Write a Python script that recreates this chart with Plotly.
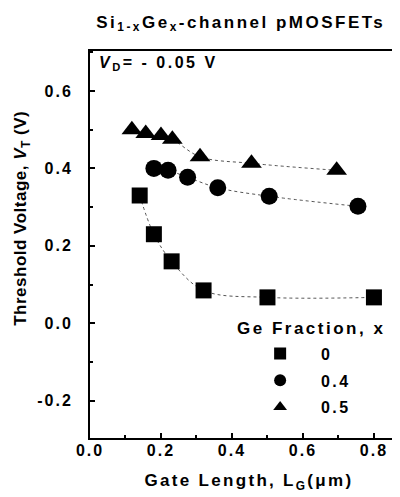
import plotly.graph_objects as go

# Data
lg_x0 = [0.14, 0.18, 0.23, 0.32, 0.50, 0.80]
vt_x0 = [0.33, 0.23, 0.16, 0.085, 0.067, 0.067]

lg_x04 = [0.18, 0.22, 0.275, 0.36, 0.505, 0.755]
vt_x04 = [0.40, 0.395, 0.377, 0.35, 0.328, 0.302]

lg_x05 = [0.118, 0.157, 0.20, 0.232, 0.31, 0.455, 0.695]
vt_x05 = [0.50, 0.49, 0.485, 0.475, 0.43, 0.413, 0.395]

x_tick_vals = [0.0, 0.2, 0.4, 0.6, 0.8]
x_tick_text = ["0.0", "0.2", "0.4", "0.6", "0.8"]
y_tick_vals = [-0.2, 0.0, 0.2, 0.4, 0.6]
y_tick_text = ["-0.2", "0.0", "0.2", "0.4", "0.6"]

series = [
    ("0", lg_x0, vt_x0, "square", 16),
    ("0.4", lg_x04, vt_x04, "circle", 17),
    ("0.5", lg_x05, vt_x05, "triangle-up", 18),
]

FONT = "Liberation Sans"
W = "bold"


def sp(t, px=2.5):
    return '<span style="letter-spacing:%spx">%s</span>' % (px, t)


fig = go.Figure()

for name, xs, ys, sym, sz in series:
    fig.add_trace(go.Scatter(
        x=xs, y=ys, mode="lines", showlegend=False,
        line=dict(color="#555", width=1, dash="dot", shape="spline", smoothing=1.0),
        hoverinfo="skip"))

for name, xs, ys, sym, sz in series:
    fig.add_trace(go.Scatter(
        x=xs, y=ys, mode="markers", name=sp("   " + name, 2.5),
        marker=dict(symbol=sym, size=sz, color="black", line=dict(width=0)),
        legendgroup=name))

fig.update_layout(
    width=400, height=497,
    margin=dict(l=82, r=0, t=43, b=67),
    paper_bgcolor="white", plot_bgcolor="white",
    font=dict(family=FONT, size=16, color="black", weight=W),
    title=dict(text=sp("Si<sub>1-x</sub>Ge<sub>x</sub>-channel pMOSFETs", 2.5),
               x=0.582, xanchor="center", y=0.972, yanchor="middle",
               font=dict(family=FONT, size=17, color="black", weight=W)),
    legend=dict(x=0.535, y=0.262, xanchor="left", yanchor="top",
                bgcolor="rgba(0,0,0,0)", font=dict(family=FONT, size=16, weight=W),
                tracegroupgap=3, itemsizing="constant"),
    showlegend=True,
)

fig.update_xaxes(
    range=[0, 0.896], showline=True, linecolor="black", linewidth=2, mirror=True,
    ticks="inside", ticklen=5, tickwidth=2, tickcolor="black",
    tickvals=x_tick_vals, ticktext=[sp(t, 2) for t in x_tick_text],
    showgrid=False, zeroline=False, ticklabelstandoff=-3,
    minor=dict(ticks="inside", dtick=0.1, ticklen=3, tickwidth=2, tickcolor="black"),
    tickfont=dict(family=FONT, size=16, weight=W),
    title=dict(text=sp("Gate Length, L<sub>G</sub>(μm)", 2.3), standoff=16,
               font=dict(family=FONT, size=17, weight=W)),
)
fig.update_yaxes(
    range=[-0.296, 0.703], showline=True, linecolor="black", linewidth=2,
    ticks="inside", ticklen=5, tickwidth=2, tickcolor="black",
    tickvals=y_tick_vals, ticktext=[sp(t, 2) for t in y_tick_text],
    showgrid=False, zeroline=False, ticklabelstandoff=12,
    minor=dict(ticks="inside", dtick=0.1, ticklen=3, tickwidth=2, tickcolor="black"),
    tickfont=dict(family=FONT, size=16, weight=W),
)

fig.add_annotation(text=sp("Threshold Voltage, <i>V</i><sub>T</sub> (V)", 0.5),
                   xref="paper", yref="paper", x=-0.212, y=0.568, textangle=-90,
                   xanchor="center", yanchor="middle", showarrow=False,
                   borderpad=0,
                   font=dict(family=FONT, size=17, weight=W))
fig.add_annotation(text=sp("<i>V</i><sub>D</sub>= - 0.05 V", 2.5), xref="paper", yref="paper",
                   x=0.022, y=0.968, xanchor="left", yanchor="middle", showarrow=False,
                   font=dict(family=FONT, size=16, weight=W))
fig.add_annotation(text=sp("Ge Fraction, x", 2.5), xref="paper", yref="paper",
                   x=0.455, y=0.284, xanchor="left", yanchor="middle", showarrow=False,
                   font=dict(family=FONT, size=17, weight=W))

fig.write_html("out.html")
